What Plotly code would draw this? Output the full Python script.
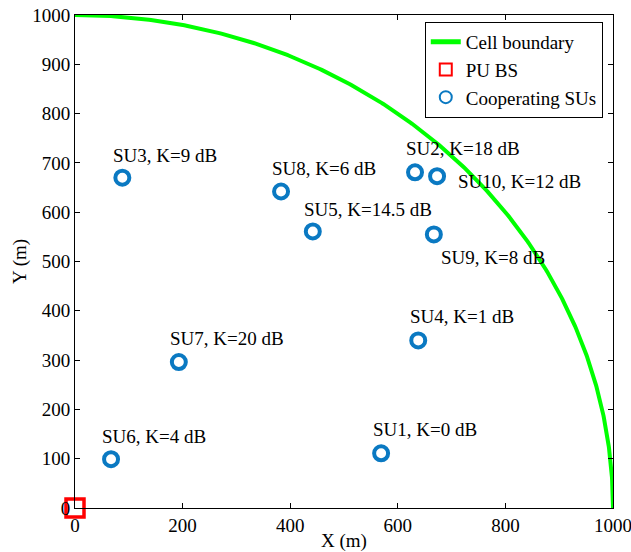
import numpy as np
import plotly.graph_objects as go

# Data
cell_radius = 1000
su_names = ["SU1", "SU2", "SU3", "SU4", "SU5", "SU6", "SU7", "SU8", "SU9", "SU10"]
su_k_db = ["0", "18", "9", "1", "14.5", "4", "20", "6", "8", "12"]
su_x = [569, 632, 88, 638, 442, 67, 193, 383, 667, 673]
su_y = [111, 681, 670, 340, 561, 99, 296, 642, 555, 673]
label_x = [550, 611, 67, 619, 422, 46, 173, 362, 677, 708]
label_y = [160, 729, 715, 389, 606, 146, 344, 689, 509, 663]
pu_x = [0]
pu_y = [0]

theta = np.linspace(0, np.pi / 2, 400)
arc_x = cell_radius * np.cos(theta)
arc_y = cell_radius * np.sin(theta)

FONT = "Liberation Serif"
FS = 19

fig = go.Figure()
fig.add_trace(go.Scatter(x=arc_x, y=arc_y, mode="lines", name="Cell boundary",
                         line=dict(color="#00FF00", width=4), cliponaxis=False))
fig.add_trace(go.Scatter(x=pu_x, y=pu_y, mode="markers", name="PU BS",
                         marker=dict(symbol="square-open", size=18, color="#FF0000",
                                     line=dict(width=3.5, color="#FF0000")),
                         cliponaxis=False))
fig.add_trace(go.Scatter(x=su_x, y=su_y, mode="markers", name="Cooperating SUs",
                         marker=dict(symbol="circle-open", size=14, color="#0A79C2",
                                     line=dict(width=4, color="#0A79C2"))))

for n, k, lx, ly in zip(su_names, su_k_db, label_x, label_y):
    fig.add_annotation(x=lx, y=ly, text=f"{n}, K={k} dB", showarrow=False,
                       xanchor="left", yanchor="middle",
                       font=dict(family=FONT, size=FS, color="black"))

axis_common = dict(showline=True, linecolor="black", linewidth=1, mirror="ticks",
                   ticks="inside", ticklen=5, tickcolor="black", showgrid=False,
                   zeroline=False, automargin=False, ticklabeloverflow="allow",
                   tickfont=dict(family=FONT, size=FS, color="black"))

fig.update_layout(
    width=631, height=552,
    margin=dict(l=75, r=18, t=15, b=44),
    paper_bgcolor="white", plot_bgcolor="white",
    font=dict(family=FONT, size=FS, color="black"),
    xaxis=dict(range=[0, 1000], tickvals=[0, 200, 400, 600, 800, 1000],
               title=dict(text="X (m)", standoff=0, font=dict(family=FONT, size=FS)),
               **axis_common),
    yaxis=dict(range=[0, 1000], tickvals=list(range(0, 1001, 100)),
               title=dict(text="Y (m)", standoff=0, font=dict(family=FONT, size=FS)),
               **axis_common),
    legend=dict(x=0.981, y=0.986, xanchor="right", yanchor="top",
                bordercolor="black", borderwidth=1, bgcolor="white",
                font=dict(family=FONT, size=FS), tracegroupgap=0,
                itemsizing="constant"),
    showlegend=True,
)

fig.write_html("out.html")
